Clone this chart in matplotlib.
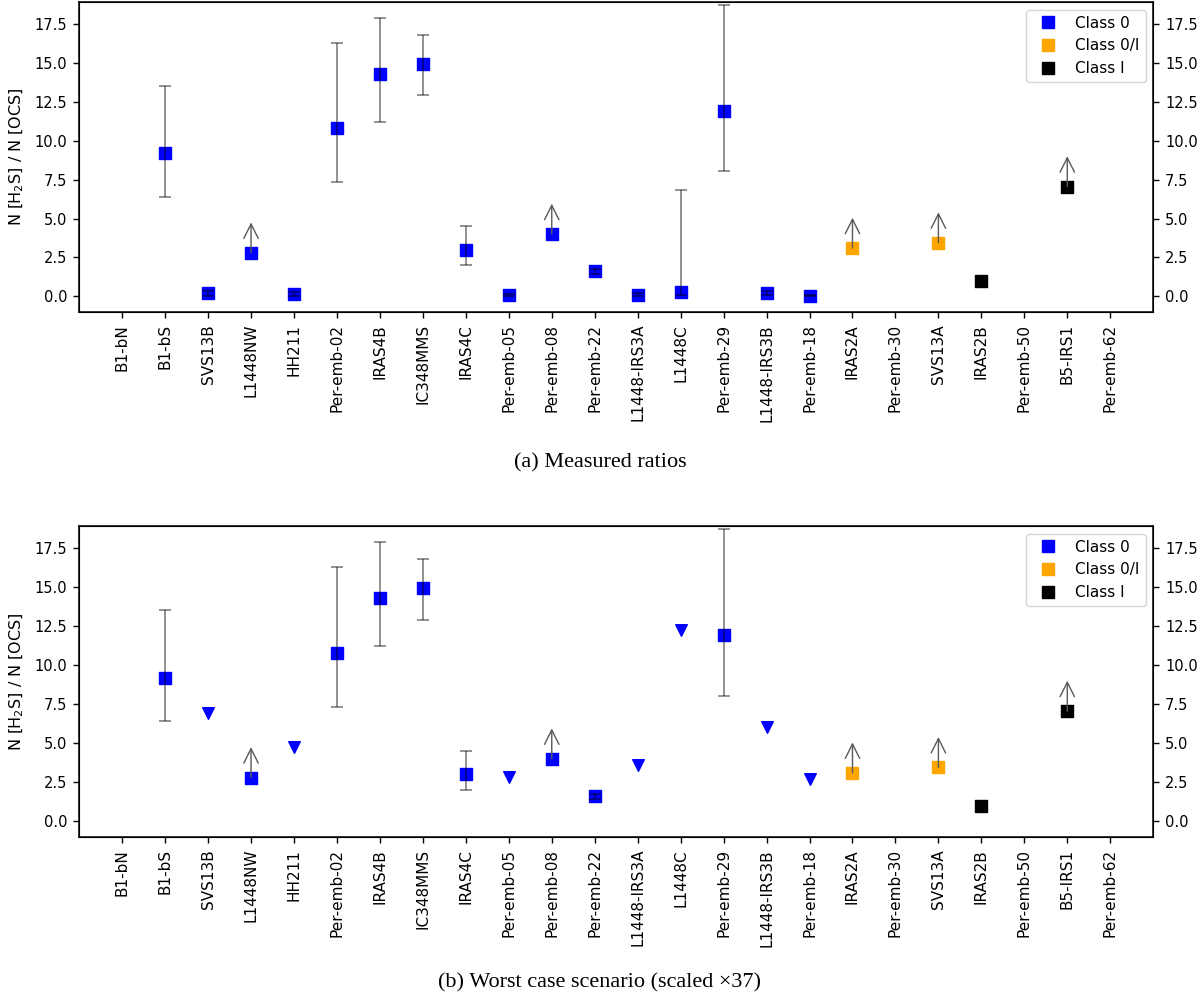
import numpy as np
import matplotlib
matplotlib.use('Agg')
import matplotlib.pyplot as plt
from matplotlib.lines import Line2D

# sources along the x axis
sources = ['B1-bN', 'B1-bS', 'SVS13B', 'L1448NW', 'HH211', 'Per-emb-02', 'IRAS4B',
           'IC348MMS', 'IRAS4C', 'Per-emb-05', 'Per-emb-08', 'Per-emb-22', 'L1448-IRS3A',
           'L1448C', 'Per-emb-29', 'L1448-IRS3B', 'Per-emb-18', 'IRAS2A', 'Per-emb-30',
           'SVS13A', 'IRAS2B', 'Per-emb-50', 'B5-IRS1', 'Per-emb-62']

nan = np.nan
# measured N(H2S)/N(OCS)
ratio = [nan, 9.2, 0.2, 2.8, 0.15, 10.8, 14.3, 14.95, 3.0, 0.1, 4.0, 1.6, 0.1,
         0.3, 11.9, 0.2, 0.05, 3.1, nan, 3.45, 1.0, nan, 7.05, nan]
# lower / upper ends of the error bars
err_lo = [nan, 6.4, 0.05, nan, 0.02, 7.35, 11.2, 12.9, 2.0, 0.03, nan, 1.45, 0.0,
          0.12, 8.05, 0.08, 0.02, nan, nan, nan, nan, nan, nan, nan]
err_hi = [nan, 13.5, 0.35, nan, 0.3, 16.3, 17.9, 16.8, 4.5, 0.17, nan, 1.75, 0.2,
          6.8, 18.7, 0.32, 0.08, nan, nan, nan, nan, nan, nan, nan]
# lower limits (arrow up)
lower_limit = [False, False, False, True, False, False, False, False, False, False, True,
               False, False, False, False, False, False, True, False, True, False, False,
               True, False]
yso_class = ['', '0', '0', '0', '0', '0', '0', '0', '0', '0', '0', '0', '0', '0', '0', '0',
             '0', '0/I', '', '0/I', 'I', '', 'I', '']

# worst case: upper limits for the sources with very low ratio
worst_names = ['SVS13B', 'HH211', 'Per-emb-05', 'L1448-IRS3A', 'L1448C', 'L1448-IRS3B', 'Per-emb-18']
worst_vals = [6.93, 4.73, 2.82, 3.61, 12.23, 6.01, 2.71]

class_colors = {'0': 'blue', '0/I': 'orange', 'I': 'black'}
arrow_len = 1.95


def draw(ax, worst=False):
    x = np.arange(len(sources))
    for i, name in enumerate(sources):
        if np.isnan(ratio[i]):
            continue
        if worst and name in worst_names:
            continue
        ax.scatter(x[i], ratio[i], marker='s', s=72, color=class_colors[yso_class[i]], zorder=2)
        if not np.isnan(err_lo[i]):
            ax.errorbar(x[i], ratio[i],
                        yerr=[[ratio[i] - err_lo[i]], [err_hi[i] - ratio[i]]],
                        fmt='none', ecolor='black', alpha=0.5, elinewidth=1.2,
                        capsize=4, capthick=1.2, zorder=3)
        if lower_limit[i]:
            ax.annotate('', xy=(x[i], ratio[i] + arrow_len), xytext=(x[i], ratio[i]),
                        arrowprops=dict(arrowstyle='->', color='0.35', lw=1.0,
                                        mutation_scale=26, shrinkA=0, shrinkB=0),
                        zorder=3)
    if worst:
        wx = [sources.index(n) for n in worst_names]
        ax.scatter(wx, worst_vals, marker='v', s=70, color='blue', zorder=2)

    ax.set_xlim(-1, len(sources))
    ax.set_ylim(-1.0, 18.9)
    ax.set_xticks(x)
    ax.set_xticklabels(sources, rotation=90, fontsize=11)
    ax.set_yticks(np.arange(0, 17.6, 2.5))
    ax.tick_params(axis='y', labelsize=10.5)
    ax.tick_params(length=4.3, width=1.0, pad=4.3)
    ax.set_ylabel('N [H$_2$S] / N [OCS]', fontsize=11.5, labelpad=6)
    for sp in ax.spines.values():
        sp.set_linewidth(1.1)

    ax2 = ax.twinx()
    ax2.set_ylim(ax.get_ylim())
    ax2.set_yticks(np.arange(0, 17.6, 2.5))
    ax2.tick_params(axis='y', labelsize=10.5, length=4.3, width=1.0, pad=4.3)

    handles = [Line2D([], [], marker='s', linestyle='none', markersize=8,
                      color=class_colors[c], label='Class ' + c) for c in ['0', '0/I', 'I']]
    ax2.legend(handles=handles, loc='upper right', fontsize=11)


fig = plt.figure(figsize=(12, 10), dpi=100)
ax_a = fig.add_axes([0.066, 0.688, 0.895, 0.310])
ax_b = fig.add_axes([0.066, 0.163, 0.895, 0.311])

draw(ax_a)
draw(ax_b, worst=True)

fig.text(0.5, 0.537, '(a) Measured ratios', ha='center', va='center',
         fontsize=16, family='Liberation Serif')
fig.text(0.5, 0.017, '(b) Worst case scenario (scaled \u00d737)', ha='center', va='center',
         fontsize=16, family='Liberation Serif')

fig.savefig('out.png', dpi=100)
